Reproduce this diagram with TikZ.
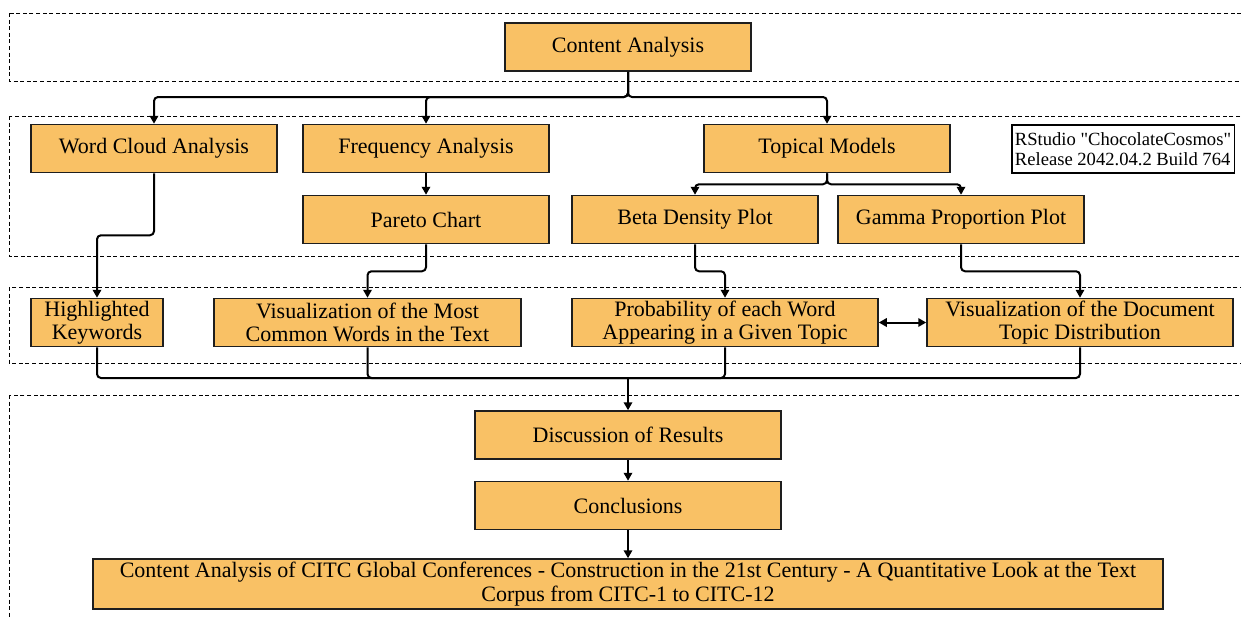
\documentclass[tikz,border=0pt]{standalone}
\usepackage{fontspec}
\setmainfont{Liberation Serif}
\newfontfamily\notefont[Ligatures=ResetAll]{Liberation Serif}
\usetikzlibrary{arrows.meta}
\definecolor{boxfill}{RGB}{249,193,101}
\definecolor{boxline}{RGB}{30,30,30}
\begin{document}
\begin{tikzpicture}[x=0.5pt,y=-0.5pt,
  box/.style={draw=boxline,fill=boxfill,line width=0.75pt,minimum height=24pt,
    inner sep=1pt,align=center,font=\rmfamily\fontsize{11}{11.6}\selectfont},
  note/.style={draw=black,fill=white,line width=0.6pt,minimum height=24pt,minimum width=110pt,
    inner sep=1.5pt,align=left,font=\notefont\fontsize{9.3}{9.9}\selectfont},
  region/.style={draw=black,line width=0.5pt,dash pattern=on 2pt off 1.3pt},
  conn/.style={draw=black,line width=1pt,rounded corners=2pt},
  arr/.style={conn,-{Triangle[length=4pt,width=4.2pt]}},
  darr/.style={conn,{Triangle[length=4pt,width=4.2pt]}-{Triangle[length=4pt,width=4.2pt]}}]
\useasboundingbox (0,0) rectangle (1241,616);
\clip (0,0) rectangle (1241,616);
% dashed regions
\draw[region] (9,13) rectangle (1260,81);
\draw[region] (9,116) rectangle (1260,256);
\draw[region] (9,287) rectangle (1260,363);
\draw[region] (9,395) rectangle (1260,640);
% nodes
\node[box,minimum width=123pt] (ca) at (628,47) {Content Analysis};
\node[box,minimum width=123pt] (wc) at (154,148.5) {Word Cloud Analysis};
\node[box,minimum width=123pt] (fa) at (426,148.5) {Frequency Analysis};
\node[box,minimum width=123pt] (tm) at (827,148.5) {Topical Models};
\node[note] (rs) at (1123,149) {RStudio "ChocolateCosmos"\\Release 2042.04.2 Build 764};
\node[box,minimum width=123pt] (pc) at (426,219.5) {Pareto Chart};
\node[box,minimum width=123pt] (bd) at (695,219.5) {Beta Density Plot};
\node[box,minimum width=123pt] (gp) at (961,219.5) {Gamma Proportion Plot};
\node[box,minimum width=66pt] (hk) at (97,322.5) {Highlighted\\Keywords};
\node[box,minimum width=153.5pt] (vm) at (367.5,322.5) {Visualization of the Most\\Common Words in the Text};
\node[box,minimum width=153pt] (pw) at (725,322.5) {Probability of each Word\\Appearing in a Given Topic};
\node[box,minimum width=153pt] (vd) at (1080,322.5) {Visualization of the Document\\Topic Distribution};
\node[box,minimum width=153pt] (dr) at (628,435) {Discussion of Results};
\node[box,minimum width=153pt] (cl) at (628,505.5) {Conclusions};
\node[box,minimum width=535pt,minimum height=25pt] (fin) at (628,584)
  {Content Analysis of CITC Global Conferences - Construction in the 21st Century - A Quantitative Look at the Text\\Corpus from CITC-1 to CITC-12};
% connectors
\coordinate (j1) at (628,97);
\draw[arr] (ca.south) -- (j1) -| (wc.north);
\draw[arr] (ca.south) -- (j1) -| (fa.north);
\draw[arr] (ca.south) -- (j1) -| (tm.north);
\draw[arr] (wc.south) -- ++(0,62) -| (hk.north);
\draw[arr] (fa.south) -- (pc.north);
\draw[arr] (pc.south) -- ++(0,27) -| (vm.north);
\draw[arr] (tm.south) -- ++(0,11) -| (bd.north);
\draw[arr] (tm.south) -- ++(0,11) -| (gp.north);
\draw[arr] (bd.south) -- ++(0,27) -| (pw.north);
\draw[arr] (gp.south) -- ++(0,27) -| (vd.north);
\draw[darr] (pw.east) -- (vd.west);
\coordinate (m) at (628,378);
\draw[conn] (hk.south) |- (m);
\draw[conn] (vm.south) |- (m);
\draw[conn] (pw.south) |- (m);
\draw[conn] (vd.south) |- (m);
\draw[arr] (m) -- (dr.north);
\draw[arr] (dr.south) -- (cl.north);
\draw[arr] (cl.south) -- (fin.north);
\end{tikzpicture}
\end{document}
